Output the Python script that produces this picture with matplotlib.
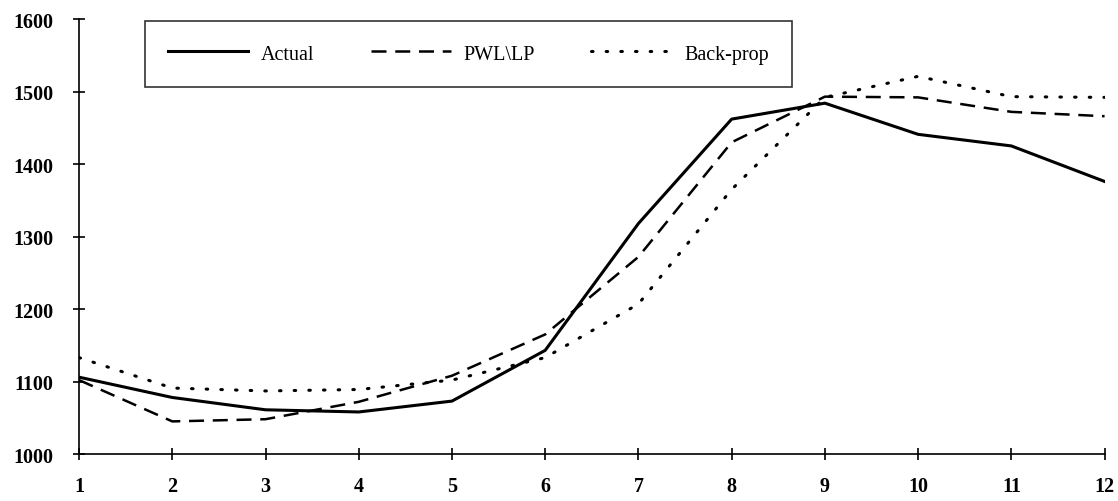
import matplotlib
matplotlib.use("Agg")
import matplotlib.pyplot as plt

x = [1, 2, 3, 4, 5, 6, 7, 8, 9, 10, 11, 12]
actual = [1106, 1078, 1061, 1058, 1073, 1143, 1318, 1462, 1484, 1441, 1425, 1376]
pwl_lp = [1102, 1045, 1048, 1072, 1108, 1165, 1272, 1430, 1493, 1492, 1472, 1466]
backprop = [1133, 1091, 1087, 1089, 1102, 1133, 1207, 1365, 1492, 1521, 1493, 1492]
yticks = [1000, 1100, 1200, 1300, 1400, 1500, 1600]

plt.rcParams['font.family'] = ['Liberation Serif', 'DejaVu Serif']

fig = plt.figure(figsize=(11.18, 5.02), dpi=100)
ax = fig.add_axes([0.0707, 0.0936, 0.9173, 0.8664])

ax.plot(x, actual, color='black', lw=2.2, ls='-', label='Actual')
ax.plot(x, pwl_lp, color='black', lw=1.8, ls=(0, (6, 3.5)), label='PWL\\LP')
ax.plot(x, backprop, color='black', lw=2.2, ls=(0, (0.5, 4.3)),
        dash_capstyle='round', label='Back-prop')

ax.set_xlim(1, 12)
ax.set_ylim(1000, 1600)
ax.set_xticks(x)
ax.set_yticks(yticks)
for s in ['top', 'right']:
    ax.spines[s].set_visible(False)
for s in ['left', 'bottom']:
    ax.spines[s].set_linewidth(1.2)
ax.tick_params(direction='inout', length=9, width=1.2, labelsize=14.5)
ax.tick_params(axis='x', pad=11)
ax.tick_params(axis='y', pad=14)
for lbl in ax.get_xticklabels() + ax.get_yticklabels():
    lbl.set_fontweight('bold')

leg = ax.legend(loc='upper left', bbox_to_anchor=(0.064, 0.846, 0.631, 0.149),
                mode='expand', ncol=3, handlelength=4.0, fontsize=14.5,
                frameon=True, fancybox=False, borderaxespad=0, borderpad=1.15,
                handletextpad=0.6, columnspacing=2.0)
leg.get_frame().set_edgecolor('black')
leg.get_frame().set_linewidth(1.2)

fig.savefig('out.png', dpi=100)
